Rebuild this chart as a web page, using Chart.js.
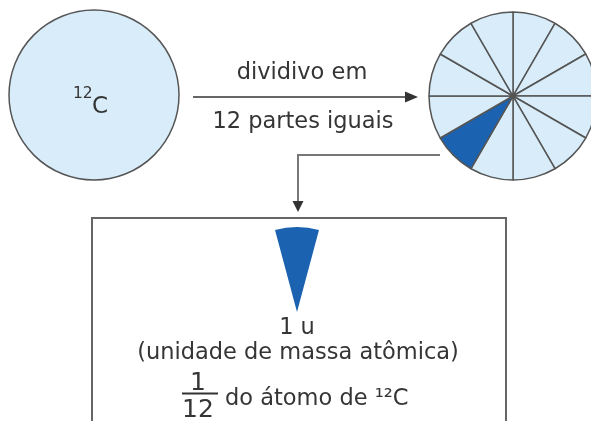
<!DOCTYPE html>
<html>
<head>
<meta charset="utf-8">
<script src="https://cdn.jsdelivr.net/npm/chart.js@4"></script>
<style>
  html, body { margin:0; padding:0; background:#fff; }
  body { width:591px; height:421px; overflow:hidden; position:relative; font-family:"DejaVu Sans", Verdana, sans-serif; }
  canvas { position:absolute; }
  svg { position:absolute; left:0; top:0; pointer-events:none; }
</style>
</head>
<body>
<canvas id="whole" width="190" height="190" style="left:-1px;top:0px"></canvas>
<canvas id="parts" width="190" height="190" style="left:418px;top:1px"></canvas>
<canvas id="unit" width="190" height="190" style="left:202px;top:217px"></canvas>

<svg width="591" height="421" xmlns="http://www.w3.org/2000/svg" font-family="DejaVu Sans, Verdana, sans-serif" fill="#353535">
  <!-- left atom label -->
  <text x="73" y="98" font-size="15.5">12</text>
  <text x="92" y="113" font-size="23">C</text>
  <!-- division arrow -->
  <line x1="193" y1="97" x2="407" y2="97" stroke="#333" stroke-width="1.6"/>
  <polygon points="418,97 405,91.5 405,102.5" fill="#333"/>
  <text x="302" y="79" font-size="22.5" text-anchor="middle">dividivo em</text>
  <text x="303" y="128" font-size="22.5" text-anchor="middle">12 partes iguais</text>
  <!-- connector -->
  <polyline points="440,155 298,155 298,203" fill="none" stroke="#777" stroke-width="2"/>
  <polygon points="298,212 292.5,201 303.5,201" fill="#333"/>
  <!-- box -->
  <rect x="92" y="218" width="414" height="300" fill="none" stroke="#666" stroke-width="2"/>
  <!-- box texts -->
  <text x="297" y="334" font-size="22.5" text-anchor="middle">1 u</text>
  <text x="298" y="359" font-size="22.5" text-anchor="middle">(unidade de massa atômica)</text>
  <text x="198" y="390" font-size="25" text-anchor="middle">1</text>
  <line x1="182" y1="393.5" x2="218" y2="393.5" stroke="#333" stroke-width="2"/>
  <text x="198" y="417" font-size="25" text-anchor="middle">12</text>
  <text x="225" y="405" font-size="22.5">do átomo de ¹²C</text>
</svg>

<script>
// Data
const wholeAtom = [12];            // the whole 12C atom
const twelveParts = [1,1,1,1,1,1,1,1,1,1,1,1]; // divided into 12 equal parts
const highlightedPart = 7;         // index of the highlighted part
const unitPart = [1, 11];          // 1/12 shown, rest hidden

const lightBlue = '#d8edf9';
const darkBlue = '#1b63b0';
const edge = '#555';

const base = {
  responsive: false,
  animation: false,
  events: [],
  layout: { padding: 0 },
  plugins: { legend: { display: false }, tooltip: { enabled: false } }
};

// outline of a whole pie without the radial seam of a single slice
const outlinePlugin = {
  id: 'outline',
  afterDatasetsDraw(chart, args, opts) {
    if (!opts || !opts.color) return;
    const arc = chart.getDatasetMeta(0).data[0];
    if (!arc) return;
    const ctx = chart.ctx;
    ctx.save();
    ctx.strokeStyle = opts.color;
    ctx.lineWidth = opts.width;
    ctx.beginPath();
    ctx.arc(arc.x, arc.y, arc.outerRadius, 0, Math.PI * 2);
    ctx.stroke();
    ctx.restore();
  }
};

new Chart(document.getElementById('whole'), {
  type: 'pie',
  data: { labels: ['12C'], datasets: [{ data: wholeAtom, backgroundColor: [lightBlue], borderWidth: 0 }] },
  options: Object.assign({}, base, { radius: 85, plugins: Object.assign({}, base.plugins, { outline: { color: edge, width: 1.5 } }) }),
  plugins: [outlinePlugin]
});

new Chart(document.getElementById('parts'), {
  type: 'pie',
  data: {
    labels: twelveParts.map((_, i) => 'parte ' + (i + 1)),
    datasets: [{
      data: twelveParts,
      backgroundColor: twelveParts.map((_, i) => i === highlightedPart ? darkBlue : lightBlue),
      borderColor: edge,
      borderWidth: 1.5
    }]
  },
  options: Object.assign({}, base, { radius: 84 })
});

new Chart(document.getElementById('unit'), {
  type: 'pie',
  data: {
    labels: ['1 u', 'resto'],
    datasets: [{ data: unitPart, backgroundColor: [darkBlue, 'rgba(0,0,0,0)'], borderWidth: 0 }]
  },
  options: Object.assign({}, base, { radius: 85, rotation: -15 })
});
</script>
</body>
</html>
